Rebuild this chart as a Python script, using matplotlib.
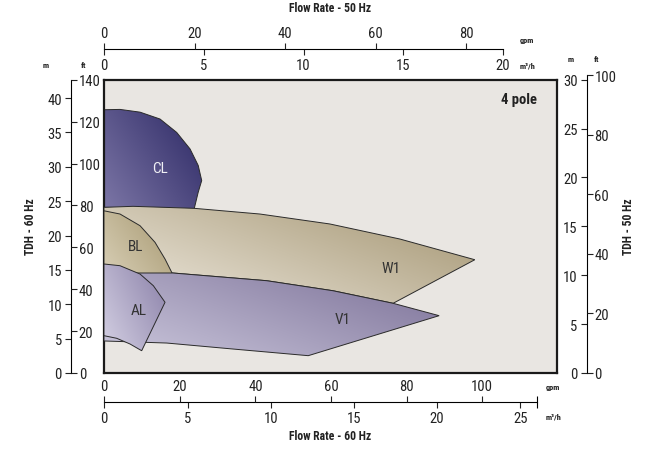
import numpy as np
import matplotlib.pyplot as plt
from matplotlib.patches import Polygon
from matplotlib.colors import LinearSegmentedColormap

plt.rcParams['font.family'] = ['Roboto Condensed', 'DejaVu Sans']

W, H = 653, 456
GPM = 0.22712          # m3/h per US gpm
FT = 0.3048            # m per ft

# ---- pump regions, read at 60 Hz: flow (m3/h) / head (m) ----
cl_flow = [0, 0.96, 2.16, 3.36, 4.36, 5.16, 5.65, 5.86, 5.65, 5.41, 0]
cl_head = [38.3, 38.35, 37.95, 36.95, 35.0, 32.6, 30.2, 28.0, 26.3, 23.9, 24.1]

w1_flow = [0, 1.74, 5.40, 9.35, 13.55, 17.75, 22.24, 17.34, 13.73, 9.75, 4.12, 0]
w1_head = [24.1, 24.25, 23.96, 23.13, 21.68, 19.49, 16.48, 10.14, 11.97, 13.43, 14.55, 14.55]

bl_flow = [0, 0.96, 2.16, 3.06, 3.66, 4.06, 4.14, 0]
bl_head = [23.6, 23.13, 21.43, 19.01, 16.58, 14.65, 14.1, 14.1]

v1_flow = [0, 4.12, 9.75, 13.73, 17.34, 20.1, 12.25, 7.73, 3.76, 0]
v1_head = [14.55, 14.55, 13.43, 11.97, 10.14, 8.34, 2.52, 3.49, 4.36, 4.66]

al_flow = [0, 0.96, 2.16, 2.96, 3.66, 2.26, 1.56, 0.76, 0]
al_head = [15.86, 15.61, 14.40, 12.70, 10.29, 3.24, 4.22, 5.05, 5.43]

regions = [
    # name, flow, head, light colour, dark colour, label pos, label colour
    ('CL', cl_flow, cl_head, '#7c76a6', '#2c2864', (3.36, 29.8), '#f0f0f5'),
    ('W1', w1_flow, w1_head, '#efeae0', '#a39470', (17.2, 15.3), '#333333'),
    ('BL', bl_flow, bl_head, '#d8cfb6', '#a5966e', (1.92, 18.5), '#333333'),
    ('V1', v1_flow, v1_head, '#cbc7dc', '#7b7097', (14.3, 7.9), '#333333'),
    ('AL', al_flow, al_head, '#d4d0e3', '#8a80a8', (2.1, 9.2), '#333333'),
]

X_MAX = 27.17          # m3/h at 60 Hz, right edge of the box
Y_MAX = 140 * FT       # 140 ft


def fx(x):
    return x / W


def fy(y):
    return 1 - y / H


fig = plt.figure(figsize=(W / 100, H / 100), dpi=100)

# main chart box
ax = fig.add_axes([fx(104), fy(374), (557 - 104) / W, (374 - 80.7) / H])
ax.set_facecolor('#e9e6e2')
for s in ax.spines.values():
    s.set_linewidth(1.6)
    s.set_color('#1a1a1a')
ax.set_xticks([])
ax.set_yticks([])

z = 2
for name, fl, hd, c0, c1, lpos, lcol in regions:
    verts = np.column_stack([fl, hd])
    patch = Polygon(verts, closed=True, facecolor='none', edgecolor='#2a2a2a',
                    linewidth=0.7, zorder=z + 0.5)
    ax.add_patch(patch)
    x0, x1 = min(fl), max(fl)
    y0, y1 = min(hd), max(hd)
    gx, gy = np.meshgrid(np.linspace(0, 1, 200), np.linspace(0, 1, 200))
    t = (gx * 0.6 + gy * 0.4)
    cmap = LinearSegmentedColormap.from_list(name, [c0, c1])
    im = ax.imshow(t, extent=[x0, x1, y0, y1], origin='lower', cmap=cmap,
                   aspect='auto', zorder=z, interpolation='bilinear')
    im.set_clip_path(patch)
    ax.text(lpos[0], lpos[1], name, ha='center', va='center', fontsize=11,
            color=lcol, zorder=z + 1)
    z += 2

ax.set_xlim(0, X_MAX)
ax.set_ylim(0, Y_MAX)
ax.text(0.955, 0.935, '4 pole', transform=ax.transAxes, ha='right', va='center',
        fontsize=10.5, fontweight='bold', color='#222222')

tick_kw = dict(length=4.5, width=0.8, colors='#222222', labelsize=10.5)


def bare(a):
    a.set_facecolor('none')
    for s in a.spines.values():
        s.set_visible(False)


# left scale: TDH 60 Hz
axl = fig.add_axes([fx(71), fy(374), 0.00001, (374 - 80.7) / H])
bare(axl)
axl.spines['left'].set_visible(True)
axl.spines['left'].set_linewidth(0.8)
axl.set_xticks([])
axl.set_ylim(0, Y_MAX)
axl.set_yticks(np.arange(0, 41, 5))
axl.tick_params(axis='y', left=True, right=False, labelleft=True, pad=2, **tick_kw)
axl2 = axl.twinx()
bare(axl2)
axl2.set_ylim(0, 140)
axl2.set_yticks(np.arange(0, 141, 20))
axl2.tick_params(axis='y', right=True, left=False, labelright=True, pad=1, **tick_kw)

# right scale: TDH 50 Hz
top_r = 374 - 100 * FT * (374 - 80.7) / 30.0
axr = fig.add_axes([fx(586.7), fy(374), 0.00001, (374 - top_r) / H])
bare(axr)
axr.spines['left'].set_visible(True)
axr.spines['left'].set_linewidth(0.8)
axr.set_xticks([])
axr.set_ylim(0, 100 * FT)
axr.set_yticks(np.arange(0, 31, 5))
axr.tick_params(axis='y', left=True, right=False, labelleft=True, pad=2, **tick_kw)
axr2 = axr.twinx()
bare(axr2)
axr2.set_ylim(0, 100)
axr2.set_yticks(np.arange(0, 101, 20))
axr2.tick_params(axis='y', right=True, left=False, labelright=True, pad=1, **tick_kw)

# top scale: flow 50 Hz
axt = fig.add_axes([fx(104), fy(50), (503 - 104) / W, 0.00001])
bare(axt)
axt.spines['bottom'].set_visible(True)
axt.spines['bottom'].set_linewidth(0.8)
axt.set_yticks([])
axt.set_xlim(0, 20)
axt.set_xticks(np.arange(0, 21, 5))
axt.tick_params(axis='x', bottom=True, top=False, labelbottom=True, pad=2, **tick_kw)
axt2 = axt.twiny()
bare(axt2)
axt2.set_xlim(0, 20 / GPM)
axt2.set_xticks(np.arange(0, 81, 20))
axt2.tick_params(axis='x', top=True, bottom=False, labeltop=True, pad=2, **tick_kw)

# bottom scale: flow 60 Hz
axb = fig.add_axes([fx(104.3), fy(402.7), (537 - 104.3) / W, 0.00001])
bare(axb)
axb.spines['bottom'].set_visible(True)
axb.spines['bottom'].set_linewidth(0.8)
axb.set_yticks([])
axb.set_xlim(0, 26)
axb.set_xticks(np.arange(0, 26, 5))
axb.set_xticks([26], minor=True)
axb.tick_params(axis='x', which='major', bottom=True, top=False, labelbottom=True, pad=2, **tick_kw)
axb.tick_params(axis='x', which='minor', bottom=True, direction='inout', length=9, width=0.8,
                labelbottom=False)
axb2 = axb.twiny()
bare(axb2)
axb2.set_xlim(0, 26 / GPM)
axb2.set_xticks(np.arange(0, 101, 20))
axb2.tick_params(axis='x', top=True, bottom=False, labeltop=True, pad=2, **tick_kw)

# titles and unit marks
txt = dict(color='#222222', fontweight='bold')
fig.text(fx(330), fy(9), 'Flow Rate - 50 Hz', ha='center', va='center', fontsize=8.5, **txt)
fig.text(fx(330.5), fy(437), 'Flow Rate - 60 Hz', ha='center', va='center', fontsize=8.5, **txt)
fig.text(fx(31), fy(227), 'TDH - 60 Hz', ha='center', va='center', rotation=90, fontsize=8.5, **txt)
fig.text(fx(628), fy(227), 'TDH - 50 Hz', ha='center', va='center', rotation=90, fontsize=8.5, **txt)

small = dict(fontsize=6, color='#222222', va='center', fontweight='bold')
fig.text(fx(520), fy(40), 'gpm', ha='left', **small)
fig.text(fx(520), fy(66), 'm³/h', ha='left', **small)
fig.text(fx(546), fy(388), 'gpm', ha='left', **small)
fig.text(fx(546), fy(417), 'm³/h', ha='left', **small)
fig.text(fx(46), fy(65), 'm', ha='center', **small)
fig.text(fx(84), fy(65), 'ft', ha='center', **small)
fig.text(fx(571), fy(60), 'm', ha='center', **small)
fig.text(fx(597), fy(60), 'ft', ha='center', **small)

fig.savefig('out.png', dpi=100)
